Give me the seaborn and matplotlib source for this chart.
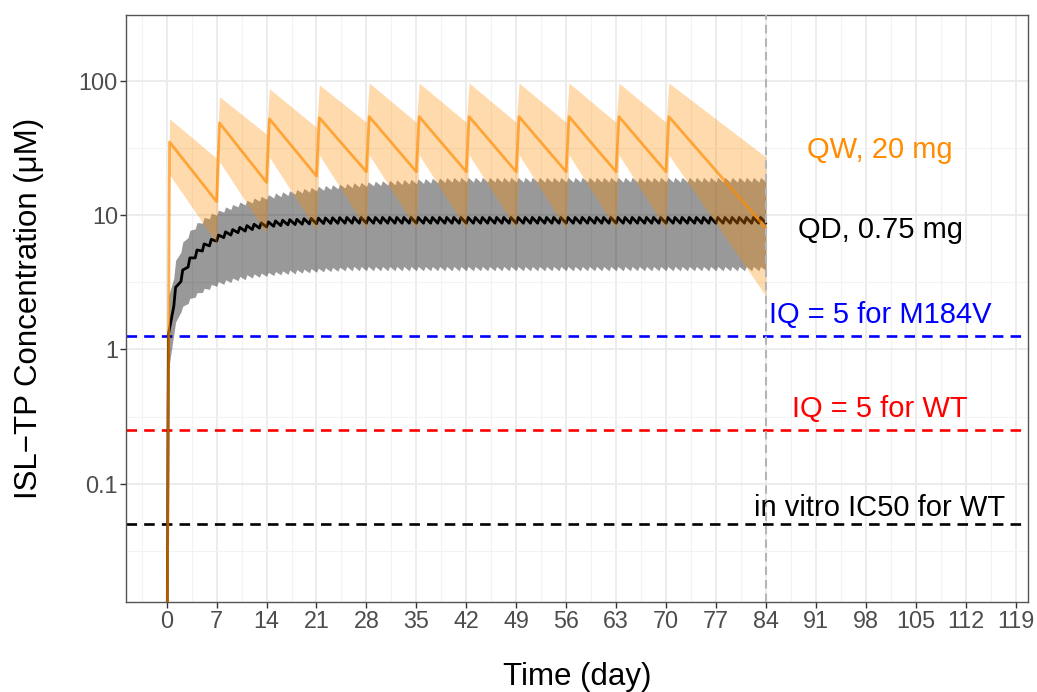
"""ISL-TP concentration over time for QD and QW dosing."""
import numpy as np
import pandas as pd
import matplotlib
matplotlib.use("Agg")
import matplotlib.pyplot as plt
from matplotlib.ticker import FixedLocator, FixedFormatter, NullFormatter
import seaborn as sns

# ---- QW, 20 mg (weekly doses): value just before each dose and at peak ----
qw_dose_days = [0, 7, 14, 21, 28, 35, 42, 49, 56, 63, 70]
qw_median_trough = [0.001, 12.6, 17.5, 19.5, 21, 21, 21, 21, 21, 21, 21]
qw_median_peak = [35, 48.5, 52, 53, 54, 54, 54, 54, 54, 54, 54]
qw_upper_trough = [0.001, 26.5, 40, 45, 49, 49, 49, 49, 49, 49, 49]
qw_upper_peak = [52, 76, 87, 93, 96, 96, 96, 96, 96, 96, 96]
qw_lower_trough = [0.001, 6.2, 7.3, 7.7, 7.9, 7.9, 7.9, 7.9, 7.9, 7.9, 7.9]
qw_lower_peak = [20, 25, 27, 28, 28, 28, 28, 28, 28, 28, 28]
qw_end = {"median": 8.0, "upper": 27, "lower": 2.5}

# ---- QD, 0.75 mg (daily doses, day 0..83) ----
qd_dose_days = list(range(84))
qd_median_trough = [0.001, 2.1, 3.2, 4.1, 4.8, 5.4, 5.9, 6.4, 6.8, 7.1, 7.4, 7.6, 7.8,
                    8.0, 8.15, 8.25, 8.35, 8.45, 8.5, 8.55, 8.6, 8.62, 8.65, 8.67,
                    8.68, 8.7] + [8.7] * 58
qd_median_peak = [1.3, 2.9, 3.9, 4.8, 5.5, 6.1, 6.6, 7.1, 7.5, 7.8, 8.1, 8.35, 8.55,
                  8.75, 8.9, 9.05, 9.15, 9.25, 9.3, 9.4, 9.45, 9.5, 9.52, 9.55,
                  9.58, 9.6] + [9.6] * 58
qd_upper_trough = [0.001, 3.4, 5.3, 6.8, 7.9, 8.7, 9.4, 10.0, 10.5, 11.0, 11.5, 11.9,
                   12.3, 12.7, 13.1, 13.4, 13.7, 14.0, 14.3, 14.6, 14.8, 15.1, 15.3,
                   15.5, 15.7, 15.9, 16.0, 16.2, 16.3, 16.5, 16.6, 16.7, 16.8, 16.9,
                   17.0, 17.1, 17.2, 17.3, 17.4, 17.5] + [17.6] * 44
qd_upper_peak = [2.5, 4.6, 6.3, 7.7, 8.8, 9.6, 10.3, 10.9, 11.5, 12.0, 12.5, 12.9,
                 13.4, 13.8, 14.2, 14.6, 14.9, 15.2, 15.5, 15.8, 16.1, 16.4, 16.6,
                 16.8, 17.0, 17.2, 17.4, 17.5, 17.7, 17.9, 18.0, 18.2, 18.3, 18.4,
                 18.5, 18.6, 18.7, 18.8, 18.9, 19.0] + [19.1] * 44
qd_lower_trough = [0.001, 1.3, 1.9, 2.2, 2.45, 2.65, 2.8, 2.95, 3.05, 3.15, 3.25, 3.3,
                   3.4, 3.45, 3.5, 3.55, 3.6, 3.62, 3.65, 3.7, 3.72, 3.75, 3.78, 3.8,
                   3.82] + [3.85] * 59
qd_lower_peak = [0.7, 1.6, 2.1, 2.4, 2.65, 2.85, 3.05, 3.2, 3.3, 3.4, 3.5, 3.6, 3.65,
                 3.7, 3.75, 3.8, 3.85, 3.9, 3.93, 3.96, 4.0, 4.03, 4.06, 4.08,
                 4.1] + [4.15] * 59
qd_end = {"median": 8.7, "upper": 17.6, "lower": 3.85}

end_day = 84

# reference thresholds
ref_values = [1.27, 0.25, 0.05]
ref_colors = ["#0000FF", "#FF0000", "#000000"]

# labels
label_texts = ["QW, 20 mg", "QD, 0.75 mg", "IQ = 5 for M184V", "IQ = 5 for WT",
               "in vitro IC50 for WT"]
label_y = [30.5, 7.7, 1.79, 0.358, 0.0656]
label_colors = ["#FF8C00", "#000000", "#0000FF", "#FF0000", "#000000"]

x_ticks = [0, 7, 14, 21, 28, 35, 42, 49, 56, 63, 70, 77, 84, 91, 98, 105, 112, 119]
y_ticks = [0.1, 1, 10, 100]
y_tick_labels = ["0.1", "1", "10", "100"]


def sawtooth(dose_days, lag, trough, peak, end_value):
    t, v = [], []
    for d, lo, hi in zip(dose_days, trough, peak):
        t += [d, d + lag]
        v += [lo, hi]
    t.append(end_day)
    v.append(end_value)
    return np.array(t, dtype=float), np.array(v, dtype=float)


t_qw, qw_med = sawtooth(qw_dose_days, 0.4, qw_median_trough, qw_median_peak, qw_end["median"])
_, qw_up = sawtooth(qw_dose_days, 0.4, qw_upper_trough, qw_upper_peak, qw_end["upper"])
_, qw_lo = sawtooth(qw_dose_days, 0.4, qw_lower_trough, qw_lower_peak, qw_end["lower"])

t_qd, qd_med = sawtooth(qd_dose_days, 0.25, qd_median_trough, qd_median_peak, qd_end["median"])
_, qd_up = sawtooth(qd_dose_days, 0.25, qd_upper_trough, qd_upper_peak, qd_end["upper"])
_, qd_lo = sawtooth(qd_dose_days, 0.25, qd_lower_trough, qd_lower_peak, qd_end["lower"])

df_qd = pd.DataFrame({"time": t_qd, "conc": qd_med})
df_qw = pd.DataFrame({"time": t_qw, "conc": qw_med})

sns.set_theme(style="white")
plt.rcParams["font.family"] = ["Liberation Sans", "DejaVu Sans"]

fig, ax = plt.subplots(figsize=(10.37, 6.92), dpi=100)
fig.subplots_adjust(left=126.3 / 1037, right=1027.7 / 1037,
                    top=1 - 14.7 / 692, bottom=1 - 602 / 692)
ax.set_yscale("log")

# reference lines
for val, col in zip(ref_values, ref_colors):
    ax.axhline(val, color=col, ls=(0, (4, 2.7)), lw=1.9, zorder=2)

# QD ribbon + median
ax.fill_between(t_qd, qd_lo, qd_up, color="black", alpha=0.4, lw=0, zorder=3)
sns.lineplot(data=df_qd, x="time", y="conc", color="black", lw=2.0,
             sort=False, estimator=None, ax=ax, zorder=4)

# QW ribbon + median
ax.fill_between(t_qw, qw_lo, qw_up, color="#FF8C00", alpha=0.32, lw=0, zorder=5)
sns.lineplot(data=df_qw, x="time", y="conc", color="#FF8C00", alpha=0.68, lw=2.0,
             sort=False, estimator=None, ax=ax, zorder=6)

ax.axvline(end_day, color="#B5B5B5", ls=(0, (4, 2.5)), lw=1.5, zorder=7)

for txt, yv, col in zip(label_texts, label_y, label_colors):
    ax.text(100, yv, txt, color=col, fontsize=21, ha="center", va="center", zorder=8)

ax.set_xlim(-5.66, 120.7)
ax.set_ylim(0.01321, 309.7)

ax.xaxis.set_major_locator(FixedLocator(x_ticks))
ax.xaxis.set_major_formatter(FixedFormatter([str(v) for v in x_ticks]))
ax.xaxis.set_minor_locator(FixedLocator([v - 3.5 for v in x_ticks]))
ax.yaxis.set_major_locator(FixedLocator(y_ticks))
ax.yaxis.set_major_formatter(FixedFormatter(y_tick_labels))
ax.yaxis.set_minor_locator(FixedLocator([0.0316, 0.316, 3.16, 31.6]))
ax.yaxis.set_minor_formatter(NullFormatter())

ax.grid(which="major", color="#EBEBEB", lw=1.3)
ax.grid(which="minor", color="#F3F3F3", lw=0.8)
ax.set_axisbelow(True)

ax.tick_params(which="major", length=4, width=1, color="#333333", labelsize=16.8,
               labelcolor="#4D4D4D", pad=2, bottom=True, left=True)
ax.tick_params(which="minor", length=0)
for sp in ax.spines.values():
    sp.set_color("#555555")
    sp.set_linewidth(1.0)

ax.set_xlabel("Time (day)", fontsize=22.5, labelpad=21, color="black")
ax.set_ylabel("ISL\u2212TP Concentration (\u03bcM)", fontsize=22.5, labelpad=25,
              color="black")

fig.savefig("out.png", dpi=100)
